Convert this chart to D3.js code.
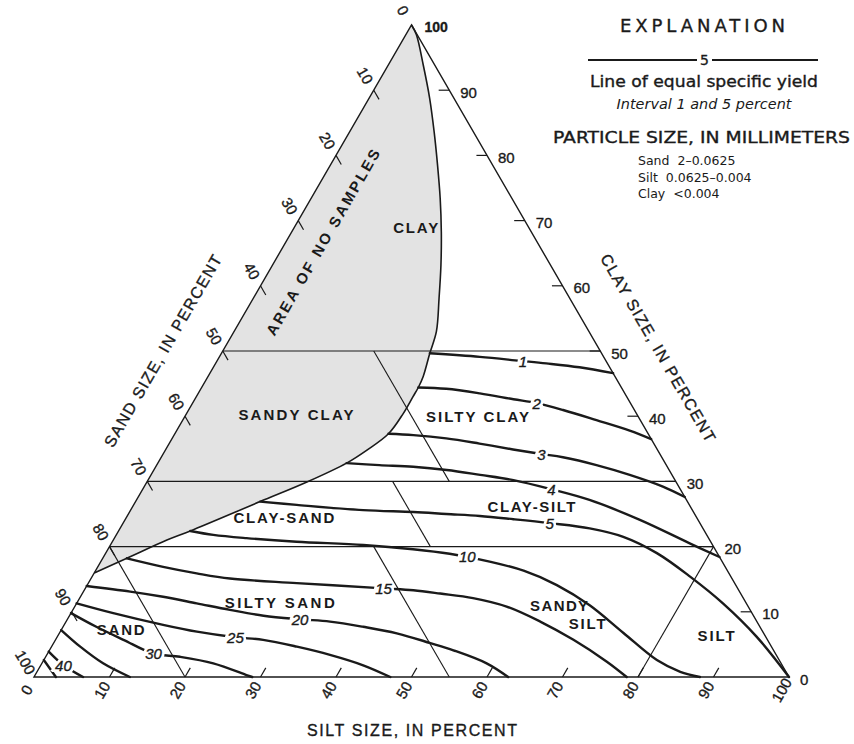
<!DOCTYPE html>
<html>
<head>
<meta charset="utf-8">
<script src="https://cdn.jsdelivr.net/npm/d3@7"></script>
<style>
  body { margin: 0; background: #fff; }
  svg { display: block; }
  text { font-family: "Liberation Sans", Arial, sans-serif; fill: #1a1a1a; }
  .heavy { stroke: #1a1a1a; stroke-width: 0.35px; }
  .wide { font-family: "DejaVu Sans", "Liberation Sans", sans-serif; }
</style>
</head>
<body>
<svg id="chart" width="854" height="744"></svg>
<script>
// ---------------------------------------------------------------
// Data. Every point is [silt %, clay %]; sand % is the remainder.
// ---------------------------------------------------------------
const axisValues = [0, 10, 20, 30, 40, 50, 60, 70, 80, 90, 100];

// outline of the area where no samples were found
const noSampleBoundary = [
  [0, 100], [1.4, 98.5], [4.6, 93.9], [8.0, 88.8], [11.2, 83.6], [14.2, 78.5],
  [17.1, 73.4], [19.8, 68.3], [22.3, 63.2], [24.6, 58.1], [26.8, 53.0],
  [27.6, 49.65], [28.5, 46.1], [28.7, 44.4], [28.7, 43.0], [28.7, 40.4],
  [28.3, 37.3], [26.7, 34.8], [25.0, 32.8], [21.2, 29.9], [16.5, 26.9],
  [9.5, 22.4], [7.1, 21.0], [3.2, 18.2], [0, 15.95]
];

// class boundaries (straight segments)
const classLines = [
  [[0, 50], [50, 50]],
  [[0, 30], [70, 30]],
  [[0, 20], [80, 20]],
  [[20, 50], [40, 30]],
  [[32.5, 30], [42.5, 20]],
  [[0, 20], [20, 0]],
  [[35, 20], [55, 0]],
  [[80, 20], [80, 0]]
];

// lines of equal specific yield
const yield1  = [[27.6, 49.65], [34.5, 49.1], [40.1, 48.5], [43.8, 48.1], [48.5, 47.5], [53.4, 46.6]];
const yield2  = [[28.7, 44.4], [32.5, 44.2], [37.3, 43.5], [42.2, 42.6], [45.6, 42.0], [49.6, 40.95], [54.8, 39.4], [60.0, 37.8], [63.5, 36.5]];
const yield3  = [[28.3, 37.3], [31.7, 37.1], [36.3, 36.6], [41.1, 35.8], [46.0, 34.9], [50.1, 34.2], [53.2, 33.7], [58.25, 32.5], [63.4, 31.0], [68.7, 29.2], [72.4, 27.6]];
const yield4  = [[25.0, 32.8], [29.5, 32.5], [34.1, 32.25], [38.8, 31.75], [43.6, 31.0], [48.4, 30.2], [54.1, 28.8], [60.0, 27.15], [68.2, 24.1], [76.6, 20.5], [81.6, 18.4]];
const yield5  = [[16.5, 26.9], [21.6, 26.4], [30.8, 25.6], [37.6, 25.3], [42.1, 25.0], [46.7, 24.7], [51.4, 24.2], [56.5, 23.6], [62.2, 22.8], [67.3, 21.5], [73.0, 19.0], [79.2, 15.4], [85.6, 11.3], [92.6, 6.2], [100, 0]];
const yield10 = [[9.5, 22.4], [12.85, 21.8], [17.5, 21.3], [24.4, 20.75], [33.5, 20.25], [40.4, 19.6], [45.6, 18.9], [51.5, 17.7], [56.7, 16.3], [62.2, 14.1], [68.1, 11.0], [74.7, 6.75], [81.2, 2.6], [85.2, 0.8], [88.2, 0]];
const yield15 = [[3.2, 18.2], [8.65, 16.9], [13.6, 15.9], [18.4, 15.1], [27.6, 14.4], [39.5, 13.6], [43.6, 13.3], [47.4, 12.8], [52.1, 12.1], [57.2, 10.8], [62.8, 8.5], [68.6, 5.7], [74.7, 2.35], [78.5, 0]];
const yield20 = [[0, 13.96], [6.2, 13.1], [10.95, 12.3], [15.9, 11.3], [20.8, 10.3], [25.7, 9.4], [30.8, 8.85], [34.95, 8.5], [39.75, 7.7], [44.7, 6.7], [49.9, 5.2], [53.5, 4.1], [58.9, 2.1], [62.8, 0]];
const yield25 = [[0, 11.3], [5.6, 9.8], [13.1, 8.0], [18.1, 6.95], [23.6, 6.1], [27.5, 5.7], [32.5, 4.65], [37.5, 3.4], [42.7, 1.8], [47.2, 0]];
const yield30 = [[0, 9.8], [4.4, 7.7], [9.0, 5.7], [14.0, 3.6], [17.8, 3.1], [22.7, 2.1], [28.0, 0.3], [28.9, 0]];
const yield35 = [[0, 7.2], [3.8, 4.65], [8.1, 2.1], [12.7, 0]];
const yield40 = [[0, 3.9], [2.95, 1.85], [6.5, 0]];
const yield45 = [[0, 2.6], [2.9, 0]];

const yieldLines = [
  { value: 1,  points: yield1,  labelAt: [40.6, 48.36] },
  { value: 2,  points: yield2,  labelAt: [45.6, 41.98] },
  { value: 3,  points: yield3,  labelAt: [50.1, 34.2] },
  { value: 4,  points: yield4,  labelAt: [54.1, 28.83] },
  { value: 5,  points: yield5,  labelAt: [56.5, 23.57] },
  { value: 10, points: yield10, labelAt: [48.3, 18.05] },
  { value: 15, points: yield15, labelAt: [39.5, 13.6] },
  { value: 20, points: yield20, labelAt: [30.8, 8.85] },
  { value: 25, points: yield25, labelAt: [23.6, 6.09] },
  { value: 30, points: yield30, labelAt: [14.0, 3.63] },
  { value: 35, points: yield35, labelAt: null },
  { value: 40, points: yield40, labelAt: [2.95, 1.84] },
  { value: 45, points: yield45, labelAt: null }
];

// sediment class names, anchored at [silt, clay]
const classNames = [
  { name: "CLAY",        at: [16.1, 68.9] },
  { name: "SANDY CLAY",  at: [14.6, 40.2] },
  { name: "SILTY CLAY",  at: [38.8, 39.9] },
  { name: "CLAY-SAND",   at: [20.9, 24.4] },
  { name: "CLAY-SILT",   at: [52.8, 26.2] },
  { name: "SILTY SAND",  at: [26.8, 11.5] },
  { name: "SAND",        at: [7.8, 7.36] },
  { name: "SANDY",       at: [64.1, 10.9] },
  { name: "SILT",        at: [69.2, 8.13] },
  { name: "SILT",        at: [87.2, 6.29] }
];
const noSampleName = { name: "AREA OF NO SAMPLES", at: [4.9, 66.7] };

const particleSizes = [
  ["Sand", "2\u20130.0625"],
  ["Silt", "0.0625\u20130.004"],
  ["Clay", "<0.004"]
];

// ---------------------------------------------------------------
// Ternary frame: silt runs along the base, clay rises to the apex.
// ---------------------------------------------------------------
const svg = d3.select("#chart");
const x = d3.scaleLinear().domain([0, 100]).range([34, 789]);
const y = d3.scaleLinear().domain([0, 100]).range([677, 25]);
const proj = ([silt, clay]) => [x(silt + clay / 2), y(clay)];

const smooth = d3.line()
  .x(d => proj(d)[0]).y(d => proj(d)[1])
  .curve(d3.curveCatmullRom.alpha(0.5));
const straight = d3.line().x(d => proj(d)[0]).y(d => proj(d)[1]);

const ink = "#1a1a1a";

// shaded area of no samples (closing segment follows the sand-clay side)
svg.append("path")
  .attr("d", smooth(noSampleBoundary) + "Z")
  .attr("fill", "#e3e3e3")
  .attr("stroke", "none");

// class boundaries
svg.append("g").selectAll("path").data(classLines).join("path")
  .attr("d", d => straight(d))
  .attr("fill", "none").attr("stroke", ink).attr("stroke-width", 1.1);

// outline of the area of no samples
svg.append("path")
  .attr("d", smooth(noSampleBoundary))
  .attr("fill", "none").attr("stroke", ink).attr("stroke-width", 1.6);

// triangle
svg.append("path")
  .attr("d", straight([[0, 0], [100, 0], [0, 100]]) + "Z")
  .attr("fill", "none").attr("stroke", ink).attr("stroke-width", 1.4)
  .attr("stroke-linejoin", "miter");

// ticks along each side, drawn along the grid direction of that component
const inner = axisValues.filter(v => v > 0 && v < 100);
const tk = 1.4;
const tickSegs = [];
inner.forEach(v => {
  tickSegs.push([[0, 100 - v], [tk, 100 - v - tk]]);   // sand (left side)
  tickSegs.push([[v, 0], [v, tk]]);                    // silt (base)
  tickSegs.push([[100 - v, v], [100 - v - tk, v]]);    // clay (right side)
});
svg.append("g").selectAll("path").data(tickSegs).join("path")
  .attr("d", d => straight(d))
  .attr("stroke", ink).attr("stroke-width", 1.2);

// tick labels
const c60 = Math.cos(Math.PI / 3), s60 = Math.sin(Math.PI / 3);
const tickFont = 15;
svg.append("g").selectAll("text").data(axisValues).join("text")
  .attr("class", "heavy")
  .attr("transform", v => {
    const [px, py] = proj([0, 100 - v]);
    return `translate(${px - 17 * c60},${py - 17 * s60}) rotate(60)`;
  })
  .attr("text-anchor", "middle").attr("dominant-baseline", "central")
  .attr("font-size", tickFont)
  .text(v => v);

svg.append("g").selectAll("text").data(axisValues).join("text")
  .attr("class", "heavy")
  .attr("transform", v => {
    const [px, py] = proj([v, 0]);
    return `translate(${px - 15 * c60},${py + 15 * s60}) rotate(-60)`;
  })
  .attr("text-anchor", "middle").attr("dominant-baseline", "central")
  .attr("font-size", tickFont)
  .text(v => v);

svg.append("g").selectAll("text").data(axisValues).join("text")
  .attr("class", "heavy")
  .attr("x", v => proj([100 - v, v])[0] + (v === 100 ? 13 : 11))
  .attr("y", v => proj([100 - v, v])[1] + 2)
  .attr("dominant-baseline", "central")
  .attr("font-size", v => v === 100 ? 14 : tickFont)
  .attr("font-family", v => v === 100 ? "'Liberation Serif', 'Times New Roman', serif" : null)
  .attr("font-weight", v => v === 100 ? "bold" : null)
  .text(v => v);

// lines of equal specific yield, with gaps where they are labelled
const defs = svg.append("defs");
const mask = defs.append("mask").attr("id", "label-gaps")
  .attr("maskUnits", "userSpaceOnUse")
  .attr("x", 0).attr("y", 0).attr("width", 854).attr("height", 744);
mask.append("rect").attr("width", 854).attr("height", 744).attr("fill", "#fff");

const yieldGroup = svg.append("g").attr("mask", "url(#label-gaps)");
const yieldPaths = yieldGroup.selectAll("path").data(yieldLines).join("path")
  .attr("d", d => smooth(d.points))
  .attr("fill", "none").attr("stroke", ink).attr("stroke-width", 2.4)
  .attr("stroke-linecap", "round");

function nearestOnPath(node, target) {
  const len = node.getTotalLength();
  let best = null, bestD = Infinity;
  for (let s = 0; s <= len; s += 0.5) {
    const p = node.getPointAtLength(s);
    const d = (p.x - target[0]) ** 2 + (p.y - target[1]) ** 2;
    if (d < bestD) { bestD = d; best = p; }
  }
  return best;
}

const yieldLabels = [];
yieldPaths.each(function (d) {
  if (!d.labelAt) return;
  const p = nearestOnPath(this, proj(d.labelAt));
  yieldLabels.push({ value: d.value, x: p.x, y: p.y });
});

const labelFont = 15;
mask.selectAll("text").data(yieldLabels).join("text")
  .attr("x", d => d.x).attr("y", d => d.y)
  .attr("text-anchor", "middle").attr("dominant-baseline", "central")
  .attr("font-size", labelFont).attr("font-style", "italic")
  .attr("stroke", "#000").attr("stroke-width", 6)
  .style("fill", "#000")
  .text(d => d.value);

svg.append("g").selectAll("text").data(yieldLabels).join("text")
  .attr("class", "heavy")
  .attr("x", d => d.x).attr("y", d => d.y)
  .attr("text-anchor", "middle").attr("dominant-baseline", "central")
  .attr("font-size", labelFont).attr("font-style", "italic")
  .text(d => d.value);

// class names
const nameWidths = {
  "CLAY": 45, "SANDY CLAY": 115, "SILTY CLAY": 103, "CLAY-SAND": 101,
  "CLAY-SILT": 88, "SILTY SAND": 110, "SAND": 48, "SANDY": 58, "SILT": 37
};
svg.append("g").selectAll("text").data(classNames).join("text")
  .attr("x", d => proj(d.at)[0]).attr("y", d => proj(d.at)[1])
  .attr("text-anchor", "middle").attr("dominant-baseline", "central")
  .attr("font-size", 15).attr("font-weight", "bold")
  .attr("textLength", d => nameWidths[d.name]).attr("lengthAdjust", "spacing")
  .text(d => d.name);

svg.append("text")
  .attr("transform", () => {
    const [px, py] = proj(noSampleName.at);
    return `translate(${px},${py}) rotate(-60)`;
  })
  .attr("text-anchor", "middle").attr("dominant-baseline", "central")
  .attr("font-size", 15).attr("font-weight", "bold")
  .attr("textLength", 212).attr("lengthAdjust", "spacing")
  .text(noSampleName.name);

// axis titles
svg.append("text")
  .attr("class", "heavy")
  .attr("transform", "translate(163,351) rotate(-60)")
  .attr("text-anchor", "middle").attr("dominant-baseline", "central")
  .attr("font-size", 16).attr("textLength", 219).attr("lengthAdjust", "spacing")
  .text("SAND SIZE, IN PERCENT");
svg.append("text")
  .attr("class", "heavy")
  .attr("transform", "translate(658,348) rotate(60)")
  .attr("text-anchor", "middle").attr("dominant-baseline", "central")
  .attr("font-size", 16).attr("textLength", 214).attr("lengthAdjust", "spacing")
  .text("CLAY SIZE, IN PERCENT");
svg.append("text")
  .attr("class", "heavy")
  .attr("x", 412).attr("y", 730)
  .attr("text-anchor", "middle").attr("dominant-baseline", "central")
  .attr("font-size", 16).attr("textLength", 210).attr("lengthAdjust", "spacing")
  .text("SILT SIZE, IN PERCENT");

// explanation
const legend = svg.append("g");
legend.append("text")
  .attr("class", "wide heavy")
  .attr("x", 702.5).attr("y", 25).attr("text-anchor", "middle").attr("dominant-baseline", "central")
  .attr("font-size", 18).attr("textLength", 165).attr("lengthAdjust", "spacing")
  .text("EXPLANATION");
legend.append("line").attr("x1", 588).attr("x2", 697).attr("y1", 60).attr("y2", 60)
  .attr("stroke", ink).attr("stroke-width", 1.8);
legend.append("line").attr("x1", 712).attr("x2", 818).attr("y1", 60).attr("y2", 60)
  .attr("stroke", ink).attr("stroke-width", 1.8);
legend.append("text")
  .attr("class", "wide heavy")
  .attr("x", 704.5).attr("y", 60).attr("text-anchor", "middle").attr("dominant-baseline", "central")
  .attr("font-size", 14)
  .text("5");
legend.append("text")
  .attr("class", "wide heavy")
  .attr("x", 704).attr("y", 82).attr("text-anchor", "middle").attr("dominant-baseline", "central")
  .attr("font-size", 15).attr("textLength", 228).attr("lengthAdjust", "spacingAndGlyphs")
  .text("Line of equal specific yield");
legend.append("text")
  .attr("class", "wide")
  .attr("x", 704).attr("y", 104).attr("text-anchor", "middle").attr("dominant-baseline", "central")
  .attr("font-size", 13.5).attr("font-style", "italic")
  .attr("textLength", 175).attr("lengthAdjust", "spacingAndGlyphs")
  .text("Interval 1 and 5 percent");
legend.append("text")
  .attr("class", "wide heavy")
  .attr("x", 701.5).attr("y", 137.5).attr("text-anchor", "middle").attr("dominant-baseline", "central")
  .attr("font-size", 15.5)
  .attr("textLength", 297).attr("lengthAdjust", "spacingAndGlyphs")
  .text("PARTICLE SIZE, IN MILLIMETERS");
legend.selectAll("text.size").data(particleSizes).join("text")
  .attr("class", "size wide")
  .attr("x", 638).attr("y", (d, i) => 160 + i * 16.7)
  .attr("dominant-baseline", "central")
  .attr("font-size", 12.5)
  .call(t => {
    t.append("tspan").text(d => d[0]);
    t.append("tspan").attr("dx", 8).text(d => d[1]);
  });
</script>
</body>
</html>
